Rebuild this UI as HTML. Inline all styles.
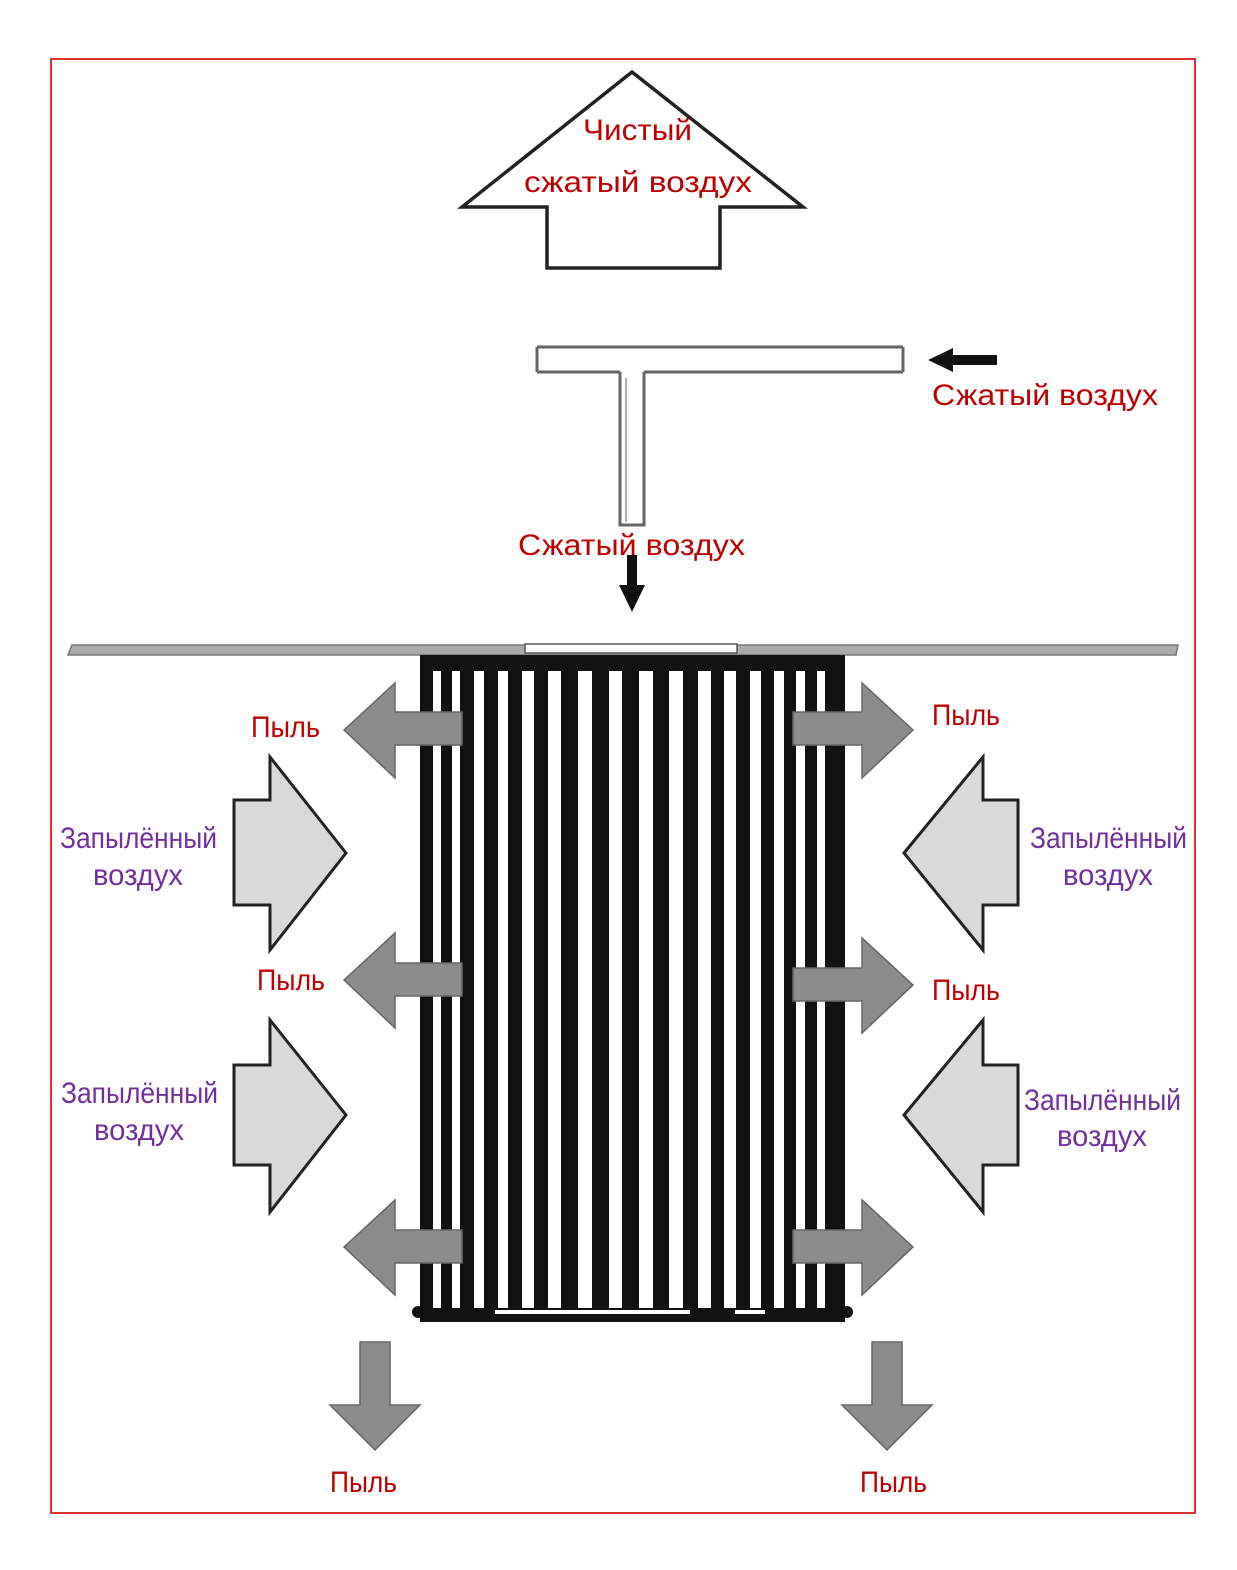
<!DOCTYPE html>
<html><head><meta charset="utf-8"><style>
html,body{margin:0;padding:0;background:#fff}
svg{display:block}
text{font-family:"Liberation Sans",sans-serif;font-size:30px}
.r{fill:#c00000}.p{fill:#7030a0}
</style></head><body>
<svg width="1237" height="1570" viewBox="0 0 1237 1570" xmlns="http://www.w3.org/2000/svg">
<rect x="51" y="59" width="1144" height="1454" fill="none" stroke="#e03030" stroke-width="2"/>
<polygon points="632,72 803,207 720,207 720,268 547,268 547,207 462,207" fill="#fff" stroke="#222" stroke-width="3.5"/>
<path d="M537,347 H903 M537,372 H620 M644,372 H903 M537,347 V372 M903,347 V372 M620,372 V525 H644 V372" fill="none" stroke="#666" stroke-width="3"/>
<path d="M626,378 V522" stroke="#999" stroke-width="1.5"/>
<polygon points="928,360 953,348 953,355 997,355 997,365 953,365 953,372" fill="#111"/>
<polygon points="627,555 637,555 637,585 645,585 632,612 619,585 627,585" fill="#111"/>
<polygon points="72,645 1178,645 1176,655 68,655" fill="#aaa" stroke="#777" stroke-width="1.5"/>
<rect x="525" y="644" width="212" height="9" fill="#fff" stroke="#555" stroke-width="1.5"/>
<rect x="420" y="655" width="425" height="667" fill="#111"/>
<circle cx="418" cy="1312" r="6" fill="#111"/><circle cx="847" cy="1312" r="6" fill="#111"/>
<g fill="#fff">
<rect x="433" y="671" width="8" height="637"/><rect x="452" y="671" width="8" height="637"/>
<rect x="474" y="671" width="10" height="637"/><rect x="498" y="671" width="10" height="637"/>
<rect x="522" y="671" width="12" height="637"/><rect x="548" y="671" width="13" height="637"/>
<rect x="578" y="671" width="14" height="637"/><rect x="609" y="671" width="13" height="637"/>
<rect x="639" y="671" width="14" height="637"/><rect x="669" y="671" width="14" height="637"/>
<rect x="698" y="671" width="13" height="637"/><rect x="724" y="671" width="12" height="637"/>
<rect x="750" y="671" width="11" height="637"/><rect x="774" y="671" width="10" height="637"/>
<rect x="796" y="671" width="9" height="637"/><rect x="817" y="671" width="8" height="637"/>
<rect x="495" y="1310" width="195" height="4"/><rect x="735" y="1310" width="30" height="4"/>
</g>
<g fill="#8c8c8c" stroke="#666" stroke-width="1.5">
<polygon points="344,730 395,683 395,712 462,712 462,745 395,745 395,778"/>
<polygon points="913,730 862,683 862,712 793,712 793,745 862,745 862,778"/>
<polygon points="344,980 395,933 395,963 462,963 462,996 395,996 395,1028"/>
<polygon points="913,985 862,938 862,968 793,968 793,1001 862,1001 862,1033"/>
<polygon points="344,1247 395,1200 395,1230 462,1230 462,1263 395,1263 395,1295"/>
<polygon points="913,1247 862,1200 862,1230 793,1230 793,1263 862,1263 862,1295"/>
<polygon points="360,1342 390,1342 390,1405 420,1405 375,1450 330,1405 360,1405"/>
<polygon points="872,1342 902,1342 902,1405 932,1405 887,1450 842,1405 872,1405"/>
</g>
<g fill="#d9d9d9" stroke="#222" stroke-width="3">
<polygon points="346,853 270,757 270,800 234,800 234,905 270,905 270,950"/>
<polygon points="346,1115 270,1020 270,1065 234,1065 234,1165 270,1165 270,1212"/>
<polygon points="904,853 983,757 983,800 1018,800 1018,905 983,905 983,950"/>
<polygon points="904,1115 983,1020 983,1065 1018,1065 1018,1165 983,1165 983,1212"/>
</g>
<g class="r">
<text x="583" y="140" textLength="109" lengthAdjust="spacingAndGlyphs">Чистый</text>
<text x="524" y="192" textLength="228" lengthAdjust="spacingAndGlyphs">сжатый воздух</text>
<text x="932" y="405" textLength="226" lengthAdjust="spacingAndGlyphs">Сжатый воздух</text>
<text x="518" y="555" textLength="227" lengthAdjust="spacingAndGlyphs">Сжатый воздух</text>
<text x="251" y="737" textLength="69" lengthAdjust="spacingAndGlyphs">Пыль</text>
<text x="932" y="725" textLength="68" lengthAdjust="spacingAndGlyphs">Пыль</text>
<text x="257" y="990" textLength="68" lengthAdjust="spacingAndGlyphs">Пыль</text>
<text x="932" y="1000" textLength="68" lengthAdjust="spacingAndGlyphs">Пыль</text>
<text x="330" y="1492" textLength="67" lengthAdjust="spacingAndGlyphs">Пыль</text>
<text x="860" y="1492" textLength="67" lengthAdjust="spacingAndGlyphs">Пыль</text>
</g>
<g class="p">
<text x="60" y="848" textLength="157" lengthAdjust="spacingAndGlyphs">Запылённый</text>
<text x="93" y="885" textLength="90" lengthAdjust="spacingAndGlyphs">воздух</text>
<text x="1030" y="848" textLength="157" lengthAdjust="spacingAndGlyphs">Запылённый</text>
<text x="1063" y="885" textLength="90" lengthAdjust="spacingAndGlyphs">воздух</text>
<text x="61" y="1103" textLength="157" lengthAdjust="spacingAndGlyphs">Запылённый</text>
<text x="94" y="1140" textLength="90" lengthAdjust="spacingAndGlyphs">воздух</text>
<text x="1024" y="1110" textLength="157" lengthAdjust="spacingAndGlyphs">Запылённый</text>
<text x="1057" y="1146" textLength="90" lengthAdjust="spacingAndGlyphs">воздух</text>
</g>
</svg>
</body></html>
